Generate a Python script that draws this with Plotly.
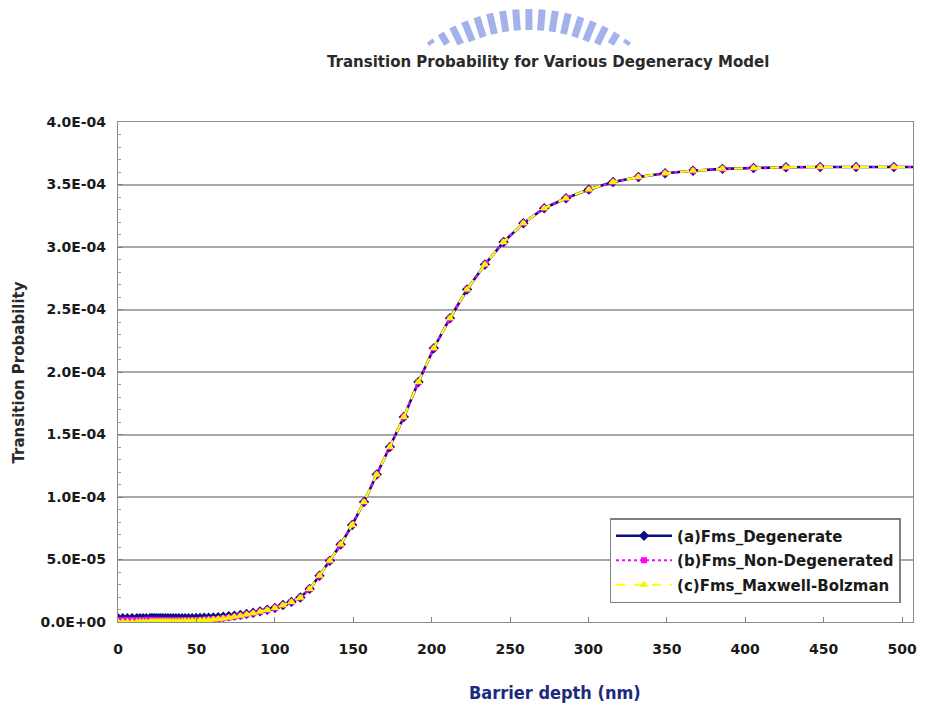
import math
import plotly.graph_objects as go

# ---------------- data ----------------
barrier_depth_nm = [
    0, 3, 6, 9, 12, 14, 16, 18,
    20.3, 21.3, 22.4, 23.5, 24.7, 26.0, 27.3, 28.7, 30.2, 31.8,
    33.4, 35.1, 36.9, 38.8, 40.8, 42.8, 45.0, 47.3, 49.8,
    52.3, 55.0, 57.8, 60.8, 63.9, 67.1, 70.6, 74.2, 78.0, 82.0,
    86.2, 90.6, 95.2, 100.1, 105.2, 110.6, 116.3, 122.2, 128.5, 135.1,
    142.0, 149.3, 156.9, 165.0, 173.4, 182.3, 191.6, 201.4, 211.7, 222.6,
    234.0, 245.9, 258.5, 271.8, 285.7, 300.3, 315.7, 331.9, 348.9, 366.7,
    385.5, 405.3, 426.0, 447.8, 470.7, 494.8, 520.2,
]

# values in units of 1E-04
fms_degenerate = [
    0.030, 0.030, 0.030, 0.030, 0.030, 0.030, 0.030, 0.030,
    0.030, 0.030, 0.030, 0.030, 0.030, 0.030, 0.030, 0.030, 0.030, 0.030,
    0.030, 0.030, 0.030, 0.030, 0.030, 0.030, 0.031, 0.031, 0.032,
    0.033, 0.034, 0.035, 0.037, 0.039, 0.042, 0.046, 0.051, 0.057, 0.065,
    0.074, 0.085, 0.098, 0.113, 0.136, 0.161, 0.196, 0.265, 0.370, 0.490,
    0.620, 0.776, 0.960, 1.180, 1.400, 1.640, 1.920, 2.190, 2.430, 2.660,
    2.860, 3.040, 3.190, 3.310, 3.390, 3.460, 3.520, 3.560, 3.590, 3.610,
    3.625, 3.632, 3.638, 3.640, 3.640, 3.640, 3.640,
]
fms_non_degenerated = [
    0.015, 0.015, 0.015, 0.015, 0.015, 0.015, 0.015, 0.015,
    0.015, 0.015, 0.015, 0.015, 0.015, 0.015, 0.015, 0.015, 0.015, 0.015,
    0.015, 0.015, 0.015, 0.015, 0.015, 0.015, 0.016, 0.016, 0.016,
    0.017, 0.018, 0.020, 0.022, 0.025, 0.030, 0.036, 0.042, 0.050, 0.060,
    0.070, 0.082, 0.096, 0.112, 0.135, 0.160, 0.195, 0.265, 0.370, 0.490,
    0.620, 0.776, 0.960, 1.180, 1.400, 1.640, 1.920, 2.190, 2.430, 2.660,
    2.860, 3.040, 3.190, 3.310, 3.390, 3.460, 3.520, 3.560, 3.590, 3.610,
    3.625, 3.632, 3.638, 3.640, 3.640, 3.640, 3.640,
]
fms_maxwell_bolzman = [
    0.000, 0.000, 0.000, 0.000, 0.000, 0.000, 0.001, 0.001,
    0.001, 0.001, 0.001, 0.001, 0.001, 0.002, 0.002, 0.002, 0.002, 0.003,
    0.003, 0.003, 0.004, 0.004, 0.005, 0.006, 0.007, 0.008, 0.010,
    0.012, 0.014, 0.017, 0.020, 0.024, 0.029, 0.035, 0.042, 0.050, 0.060,
    0.070, 0.082, 0.096, 0.112, 0.135, 0.160, 0.195, 0.265, 0.370, 0.490,
    0.620, 0.776, 0.960, 1.180, 1.400, 1.640, 1.920, 2.190, 2.430, 2.660,
    2.860, 3.040, 3.190, 3.310, 3.390, 3.460, 3.520, 3.560, 3.590, 3.610,
    3.625, 3.632, 3.638, 3.640, 3.640, 3.640, 3.640,
]
UNIT = 1e-4

series_names = ["(a)Fms_Degenerate", "(b)Fms_Non-Degenerated", "(c)Fms_Maxwell-Bolzman"]

y_tick_values = [0, 5e-5, 1e-4, 1.5e-4, 2e-4, 2.5e-4, 3e-4, 3.5e-4, 4e-4]
y_tick_labels = ["0.0E+00", "5.0E-05", "1.0E-04", "1.5E-04", "2.0E-04",
                 "2.5E-04", "3.0E-04", "3.5E-04", "4.0E-04"]
x_tick_values = [0, 50, 100, 150, 200, 250, 300, 350, 400, 450, 500]

chart_title = "Transition Probability for Various Degeneracy Model"
x_title = "Barrier depth (nm)"
y_title = "Transition Probability"

# ---------------- figure ----------------
W, H = 925, 709
L, R, T, B = 118, 8, 122, 87
PW, PH = W - L - R, H - T - B

def px_to_paper(px, py):
    return (px - L) / PW, (H - B - py) / PH

FONT = "DejaVu Sans, Verdana, Arial, sans-serif"

fig = go.Figure()

styles = [
    dict(line=dict(color="#0c0c84", width=2.6, dash="solid"),
         marker=dict(symbol="diamond", size=8, color="#0c0c84")),
    dict(line=dict(color="#ff00ff", width=2.2, dash="dot"),
         marker=dict(symbol="square", size=6, color="#ff00ff")),
    dict(line=dict(color="#ffff00", width=2.2, dash="dash"),
         marker=dict(symbol="triangle-up", size=8, color="#f5f500")),
]
for i, (name, vals) in enumerate(zip(series_names,
                                     [fms_degenerate, fms_non_degenerated, fms_maxwell_bolzman])):
    fig.add_trace(go.Scatter(
        x=barrier_depth_nm,
        y=[v * UNIT for v in vals],
        mode="lines+markers",
        name=name,
        legendgroup=f"g{i}",
        line=styles[i]["line"],
        marker=styles[i]["marker"],
        cliponaxis=True,
    ))

lx, ly = px_to_paper(612, 518)
fig.update_layout(
    width=W, height=H,
    margin=dict(l=L, r=R, t=T, b=B, pad=0),
    paper_bgcolor="white",
    plot_bgcolor="white",
    font=dict(family=FONT, color="#1a1a1a"),
    showlegend=True,
    legend=dict(
        x=lx, y=ly, xanchor="left", yanchor="top",
        bgcolor="white", bordercolor="#7f7f7f", borderwidth=1.5,
        font=dict(family=FONT, size=15, color="#1a1a1a", weight="bold"),
        itemwidth=56, tracegroupgap=2,
    ),
    xaxis=dict(
        range=[0, 507],
        tickvals=x_tick_values,
        ticks="inside", ticklen=5, tickcolor="#808080",
        showgrid=False, zeroline=False,
        showline=True, linecolor="#8c8c8c", linewidth=1.2, mirror=True,
        tickfont=dict(family=FONT, size=14, color="#1a1a1a", weight="bold"),
        ticklabelstandoff=14,
    ),
    yaxis=dict(
        range=[0, 4e-4],
        tickvals=y_tick_values, ticktext=y_tick_labels,
        ticks="inside", ticklen=5, tickcolor="#808080",
        minor=dict(dtick=1e-5, ticks="inside", ticklen=3, tickcolor="#9a9a9a", showgrid=False),
        showgrid=True, gridcolor="#a8a8a8", gridwidth=1.6,
        zeroline=False,
        showline=True, linecolor="#8c8c8c", linewidth=1.2, mirror=True,
        tickfont=dict(family=FONT, size=14, color="#1a1a1a", weight="bold"),
        ticklabelstandoff=8,
    ),
)

# titles as annotations
tx, ty = px_to_paper(550, 62)
fig.add_annotation(text=chart_title, x=tx, y=ty, xref="paper", yref="paper",
                   showarrow=False, xanchor="center", yanchor="middle",
                   font=dict(family=FONT, size=15, color="#2a2a2a", weight="bold"))
ax_, ay_ = px_to_paper(557, 692)
fig.add_annotation(text=x_title, x=ax_, y=ay_, xref="paper", yref="paper",
                   showarrow=False, xanchor="center", yanchor="middle",
                   font=dict(family="Liberation Sans Narrow, Arial Narrow, DejaVu Sans Condensed, DejaVu Sans, sans-serif",
                             size=18, color="#1c2a80", weight="bold"))
yx, yy = px_to_paper(19, 372)
fig.add_annotation(text=y_title, x=yx, y=yy, xref="paper", yref="paper",
                   showarrow=False, xanchor="center", yanchor="middle", textangle=-90,
                   font=dict(family=FONT, size=15, color="#2a2a2a", weight="bold"))

# faint logo watermark above the chart (decoration)
cx, cy, r1, r2 = 531, 182, 152, 173
shapes = []
for k in range(-9, 10):
    a = math.radians(k * 4.4)
    x1, y1 = cx + r1 * math.sin(a), cy - r1 * math.cos(a)
    x2, y2 = cx + r2 * math.sin(a), cy - r2 * math.cos(a)
    if y2 > 44:
        continue
    if y1 > 44:
        t = (44 - y2) / (y1 - y2)
        x1, y1 = x2 + t * (x1 - x2), 44
    p1 = px_to_paper(x1, y1)
    p2 = px_to_paper(x2, y2)
    shapes.append(dict(type="line", xref="paper", yref="paper",
                       x0=p1[0], y0=p1[1], x1=p2[0], y1=p2[1],
                       line=dict(color="#a3b2ea", width=7)))
fig.update_layout(shapes=shapes)

fig.write_html("out.html", config={"displayModeBar": False},
               post_script="document.body.style.margin='0';document.body.style.overflow='hidden';")
